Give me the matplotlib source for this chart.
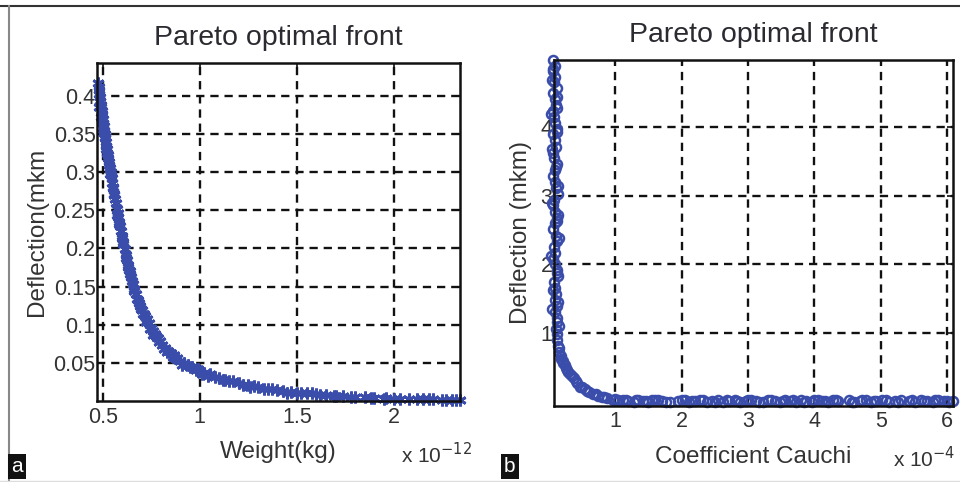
import matplotlib
matplotlib.use("Agg")
import matplotlib.pyplot as plt
from matplotlib.ticker import FixedLocator

plt.rcParams['font.family'] = ['Liberation Sans', 'DejaVu Sans']

# ---------------- Panel (a) data: Weight (x1e-12 kg) vs Deflection (mkm)
weight = [0.475, 0.478, 0.480, 0.482, 0.485, 0.487, 0.490, 0.492, 0.495, 0.497,
          0.500, 0.503, 0.505, 0.508, 0.510, 0.513, 0.515, 0.518, 0.520, 0.523,
          0.527, 0.530, 0.535, 0.540, 0.543, 0.546, 0.550, 0.555, 0.560, 0.565,
          0.568, 0.572, 0.576, 0.580, 0.585, 0.590, 0.595, 0.600, 0.606, 0.613,
          0.619, 0.625, 0.632, 0.640, 0.647, 0.655, 0.662, 0.670, 0.680, 0.690,
          0.700, 0.710, 0.718, 0.727, 0.738, 0.750, 0.760, 0.770, 0.782, 0.794,
          0.806, 0.820, 0.835, 0.850, 0.865, 0.880, 0.900, 0.920, 0.940, 0.960,
          0.980, 1.000, 1.020, 1.050, 1.080, 1.100, 1.130, 1.170, 1.200, 1.250,
          1.280, 1.300, 1.350, 1.400, 1.430, 1.470, 1.500, 1.550, 1.600, 1.650,
          1.690, 1.740, 1.800, 1.850, 1.900, 1.960, 2.030, 2.080, 2.150, 2.200,
          2.250, 2.300, 2.340,
          0.488, 0.498, 0.506, 0.517, 0.532, 0.552, 0.575, 0.598, 0.628, 0.660,
          0.705, 0.760, 0.830, 0.910, 1.010, 1.120, 1.260, 1.450, 1.700, 1.950,
          0.483, 0.493, 0.502, 0.512, 0.525, 0.538, 0.558, 0.582, 0.603, 0.618,
          0.636, 0.651, 0.675, 0.695, 0.722, 0.745, 0.788, 0.815, 0.860, 0.950,
          1.040, 1.150, 1.220, 1.330, 1.520, 1.620, 1.780, 1.880, 2.000, 2.120,
          2.180, 2.270, 2.320, 1.370, 1.580, 0.990, 0.870, 0.775, 0.685, 0.642]
deflection_a = [0.417, 0.412, 0.408, 0.402, 0.398, 0.393, 0.388, 0.385, 0.380, 0.376,
                0.370, 0.365, 0.360, 0.354, 0.350, 0.345, 0.340, 0.334, 0.330, 0.325,
                0.318, 0.313, 0.306, 0.300, 0.296, 0.292, 0.286, 0.279, 0.272, 0.265,
                0.259, 0.252, 0.247, 0.241, 0.235, 0.229, 0.223, 0.216, 0.208, 0.199,
                0.192, 0.185, 0.178, 0.170, 0.162, 0.154, 0.147, 0.140, 0.132, 0.125,
                0.119, 0.114, 0.111, 0.107, 0.102, 0.096, 0.092, 0.088, 0.083, 0.079,
                0.074, 0.070, 0.066, 0.063, 0.060, 0.057, 0.053, 0.050, 0.047, 0.044,
                0.041, 0.039, 0.037, 0.035, 0.032, 0.030, 0.028, 0.026, 0.024, 0.021,
                0.020, 0.018, 0.016, 0.014, 0.013, 0.012, 0.011, 0.010, 0.009, 0.008,
                0.007, 0.006, 0.005, 0.005, 0.004, 0.004, 0.003, 0.003, 0.002, 0.002,
                0.0015, 0.001, 0.001,
                0.394, 0.368, 0.352, 0.331, 0.310, 0.280, 0.244, 0.214, 0.176, 0.144,
                0.114, 0.086, 0.064, 0.047, 0.036, 0.027, 0.019, 0.011, 0.006, 0.003,
                0.386, 0.372, 0.358, 0.346, 0.322, 0.298, 0.270, 0.232, 0.206, 0.188,
                0.172, 0.158, 0.134, 0.120, 0.104, 0.094, 0.078, 0.068, 0.058, 0.044,
                0.033, 0.026, 0.021, 0.016, 0.010, 0.008, 0.005, 0.004, 0.003, 0.002,
                0.002, 0.001, 0.001, 0.016, 0.010, 0.042, 0.057, 0.085, 0.128, 0.166]

# ---------------- Panel (b) data: Coefficient Cauchi (x1e-4) vs Deflection (mkm)
cauchi = [0.07, 0.09, 0.06, 0.10, 0.08, 0.12, 0.07, 0.09, 0.11, 0.06,
          0.08, 0.10, 0.13, 0.07, 0.09, 0.11, 0.06, 0.08, 0.12, 0.10,
          0.07, 0.09, 0.11, 0.14, 0.08, 0.06, 0.10, 0.12, 0.09, 0.07,
          0.11, 0.13, 0.08, 0.10, 0.06, 0.09, 0.12, 0.14, 0.08, 0.10,
          0.11, 0.09, 0.13, 0.10, 0.12,
          0.05, 0.12, 0.04, 0.13, 0.05, 0.11, 0.14, 0.05, 0.12, 0.15,
          0.04, 0.13, 0.06, 0.14, 0.05, 0.12, 0.15, 0.06, 0.13, 0.14,
          0.11, 0.12, 0.14, 0.16, 0.19, 0.22, 0.26, 0.29, 0.32, 0.38,
          0.43, 0.47, 0.55, 0.61, 0.67, 0.74, 0.80, 0.88, 0.97,
          0.13, 0.15, 0.18, 0.21, 0.24, 0.28, 0.35, 0.41, 0.51, 0.58, 0.71, 0.84,
          1.05, 1.12, 1.20, 1.28, 1.35, 1.42, 1.50, 1.60, 1.70, 1.82,
          1.95, 2.05, 2.12, 2.20, 2.28, 2.38, 2.46, 2.55, 2.63, 2.72,
          2.80, 2.88, 2.97, 3.05, 3.12, 3.22, 3.30, 3.40, 3.48, 3.56,
          3.63, 3.72, 3.80, 3.88, 3.96, 4.05, 4.12, 4.20, 4.28, 4.36,
          4.52, 4.60, 4.68, 4.77, 4.85, 4.93, 5.02, 5.12, 5.22, 5.30,
          5.42, 5.52, 5.60, 5.70, 5.78, 5.86, 5.95, 6.03, 6.09,
          1.00, 1.16, 1.31, 1.46, 1.55, 1.65, 1.76, 2.00, 2.16, 2.33,
          2.50, 2.68, 2.84, 3.00, 3.17, 3.35, 3.52, 3.68, 3.84, 4.00,
          4.16, 4.32, 4.56, 4.72, 4.89, 5.07, 5.26, 5.47, 5.65, 5.82, 5.99]
deflection_b = [4.98, 4.90, 4.82, 4.74, 4.66, 4.58, 4.50, 4.41, 4.33, 4.24,
                4.15, 4.07, 3.98, 3.90, 3.81, 3.72, 3.63, 3.55, 3.46, 3.38,
                3.29, 3.20, 3.11, 3.03, 2.94, 2.86, 2.77, 2.68, 2.60, 2.51,
                2.42, 2.34, 2.25, 2.17, 2.08, 2.00, 1.91, 1.83, 1.74, 1.66,
                1.57, 1.48, 1.39, 1.30, 1.21,
                4.70, 4.45, 4.20, 3.93, 3.68, 3.42, 3.15, 2.90, 2.63, 2.38,
                2.12, 1.87, 1.62, 1.45, 1.35, 1.15, 1.10, 4.85, 4.28, 2.72,
                1.05, 0.90, 0.80, 0.71, 0.62, 0.55, 0.49, 0.43, 0.39, 0.33,
                0.26, 0.21, 0.17, 0.13, 0.10, 0.08, 0.06, 0.04, 0.02,
                0.98, 0.78, 0.66, 0.58, 0.52, 0.45, 0.36, 0.29, 0.20, 0.15, 0.10, 0.06,
                0.02, 0.01, 0.00, -0.01, 0.01, 0.00, -0.01, 0.01, 0.00, -0.02,
                0.00, 0.01, -0.01, 0.00, 0.01, -0.01, 0.00, 0.01, -0.02, 0.00,
                0.01, -0.01, 0.00, 0.01, 0.00, -0.01, 0.01, 0.00, -0.01, 0.01,
                0.00, -0.01, 0.01, 0.00, -0.01, 0.01, 0.00, -0.01, 0.01, 0.00,
                0.01, -0.01, 0.00, 0.01, -0.01, 0.00, 0.01, -0.01, 0.00, 0.01,
                0.00, -0.01, 0.01, 0.00, -0.01, 0.01, 0.00, -0.01, 0.00,
                0.03, 0.01, 0.02, 0.00, 0.02, 0.01, -0.01, 0.02, 0.00, 0.01,
                -0.01, 0.02, 0.00, 0.01, -0.01, 0.02, 0.00, 0.01, -0.01, 0.02,
                0.00, 0.01, -0.01, 0.02, 0.00, 0.01, -0.01, 0.02, 0.00, 0.01, 0.00]

xticks_a = [0.5, 1, 1.5, 2]
xticklabels_a = ['0.5', '1', '1.5', '2']
yticks_a = [0.05, 0.1, 0.15, 0.2, 0.25, 0.3, 0.35, 0.4]
yticklabels_a = ['0.05', '0.1', '0.15', '0.2', '0.25', '0.3', '0.35', '0.4']
xticks_b = [1, 2, 3, 4, 5, 6]
yticks_b = [1, 2, 3, 4]

MARKER_COLOR = '#3a4dab'
TEXT_COLOR = '#2a2a30'

fig = plt.figure(figsize=(9.6, 4.82), dpi=100)

def style_axes(ax):
    for s in ax.spines.values():
        s.set_linewidth(1.8)
        s.set_color('#111111')
    ax.tick_params(direction='in', length=4, width=1.2, top=True, right=True,
                   labelsize=15.5, labelcolor='#333333', pad=4, color='#111111')
    ax.grid(True, color='#111111', linestyle=(0, (3.5, 2.5)), linewidth=1.7)
    ax.set_axisbelow(True)

# Panel (a)
ax1 = fig.add_axes([0.101, 0.168, 0.378, 0.701])
ax1.plot(weight, deflection_a, linestyle='none', marker=(6, 2, 0), markersize=8.5,
         markeredgewidth=2.0, color=MARKER_COLOR, clip_on=False)
ax1.set_xlim(0.47, 2.34)
ax1.set_ylim(0.0, 0.443)
ax1.xaxis.set_major_locator(FixedLocator(xticks_a))
ax1.set_xticklabels(xticklabels_a)
ax1.yaxis.set_major_locator(FixedLocator(yticks_a))
ax1.set_yticklabels(yticklabels_a)
style_axes(ax1)
ax1.tick_params(axis='y', pad=1)
ax1.set_title('Pareto optimal front', fontsize=20.5, color=TEXT_COLOR, pad=13)
ax1.set_xlabel('Weight(kg)', fontsize=17.5, color='#333333', labelpad=10)
ax1.set_ylabel('Deflection(mkm', fontsize=17.5, color='#333333', labelpad=4)

# Panel (b)
ax2 = fig.add_axes([0.577, 0.158, 0.416, 0.718])
ax2.plot(cauchi, deflection_b, linestyle='none', marker='o', markersize=6.5,
         markeredgewidth=1.8, markerfacecolor='none', markeredgecolor=MARKER_COLOR,
         clip_on=False)
ax2.set_xlim(0.08, 6.09)
ax2.set_ylim(-0.07, 4.99)
ax2.xaxis.set_major_locator(FixedLocator(xticks_b))
ax2.yaxis.set_major_locator(FixedLocator(yticks_b))
style_axes(ax2)
ax2.tick_params(axis='y', pad=1)
ax2.set_title('Pareto optimal front', fontsize=20.5, color=TEXT_COLOR, pad=13)
ax2.set_xlabel('Coefficient Cauchi', fontsize=17.5, color='#333333', labelpad=10)
ax2.set_ylabel('Deflection (mkm)', fontsize=17.5, color='#333333', labelpad=6)

# Exponent texts
fig.text(0.455, 0.040, r'x 10$^{-12}$', fontsize=15, color='#333333', ha='center')
fig.text(0.963, 0.030, r'x 10$^{-4}$', fontsize=15, color='#333333', ha='center')

# Panel letters
fig.text(0.0115, 0.012, 'a', fontsize=15, color='white', ha='left', va='bottom',
         bbox=dict(boxstyle='square,pad=0.15', facecolor='#111111', edgecolor='none'))
fig.text(0.525, 0.012, 'b', fontsize=15, color='white', ha='left', va='bottom',
         bbox=dict(boxstyle='square,pad=0.15', facecolor='#111111', edgecolor='none'))

# Outer frame lines
fig.add_artist(plt.Line2D([0.0, 1.0], [0.988, 0.988], transform=fig.transFigure,
                          color='#333333', linewidth=1.5))
fig.add_artist(plt.Line2D([0.0095, 0.0095], [0.0, 0.988], transform=fig.transFigure,
                          color='#888888', linewidth=1.5))
fig.add_artist(plt.Line2D([0.0, 1.0], [0.003, 0.003], transform=fig.transFigure,
                          color='#dddddd', linewidth=1.0))

fig.savefig('out.png', dpi=100)
